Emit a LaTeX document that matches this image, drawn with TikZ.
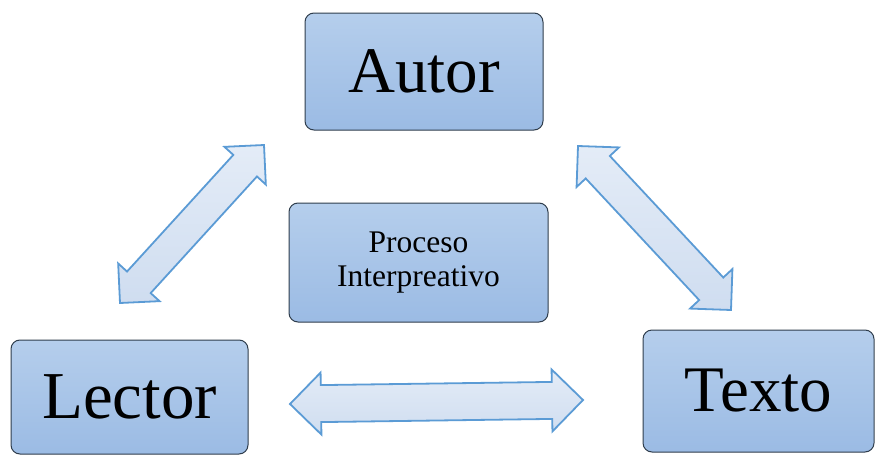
\documentclass[tikz,border=0pt]{standalone}
\usepackage{fontspec}
\setmainfont{Liberation Serif}
\usetikzlibrary{calc}
\definecolor{boxtop}{HTML}{B5CEEC}
\definecolor{boxbot}{HTML}{9BBBE4}
\definecolor{boxline}{HTML}{2F3D4C}
\definecolor{arrtop}{HTML}{E4ECF7}
\definecolor{arrbot}{HTML}{CFDDF0}
\definecolor{arrline}{HTML}{5B9BD5}
\newcommand{\dblarrow}[5]{%
  \coordinate (#1h) at ($(#1)!#3!(#2)$);
  \coordinate (#2h) at ($(#2)!#3!(#1)$);
  \draw[blockarrow] (#1)
    -- ($(#1h)!#4!90:(#1)$) -- ($(#1h)!#5!90:(#1)$)
    -- ($(#2h)!#5!-90:(#2)$) -- ($(#2h)!#4!-90:(#2)$)
    -- (#2)
    -- ($(#2h)!#4!90:(#2)$) -- ($(#2h)!#5!90:(#2)$)
    -- ($(#1h)!#5!-90:(#1)$) -- ($(#1h)!#4!-90:(#1)$)
    -- cycle;}
\tikzset{
  box/.style={draw=boxline, line width=1pt, rounded corners=9pt,
    top color=boxtop, bottom color=boxbot, inner sep=0pt, align=center},
  blockarrow/.style={draw=arrline, line width=1.8pt, line join=miter,
    top color=arrtop, bottom color=arrbot},
}
\begin{document}
\begin{tikzpicture}[x=1pt,y=-1pt]
\useasboundingbox (0,0) rectangle (875,455);
% boxes
\node[box, minimum width=238pt, minimum height=117pt, font=\fontsize{65}{70}\selectfont] (autor) at (424,71.5) {Autor};
\node[box, minimum width=259pt, minimum height=119pt, font=\fontsize{31.5}{34}\selectfont] (proc) at (418.5,262.5) {Proceso\\Interpreativo};
\node[box, minimum width=237pt, minimum height=114pt, font=\fontsize{67}{70}\selectfont] (lector) at (129.5,397) {Lector};
\node[box, minimum width=231pt, minimum height=122pt, font=\fontsize{65}{70}\selectfont] (texto) at (758.5,391) {Texto};
% block arrows
\coordinate (la) at (264,145);
\coordinate (lb) at (120,303);
\dblarrow{la}{lb}{28pt}{28pt}{16pt}
\coordinate (ra) at (578,146);
\coordinate (rb) at (731,310);
\dblarrow{ra}{rb}{29pt}{29pt}{16.5pt}
\coordinate (ha) at (290,404);
\coordinate (hb) at (583,400);
\dblarrow{ha}{hb}{31pt}{31pt}{18.5pt}
\end{tikzpicture}
\end{document}
